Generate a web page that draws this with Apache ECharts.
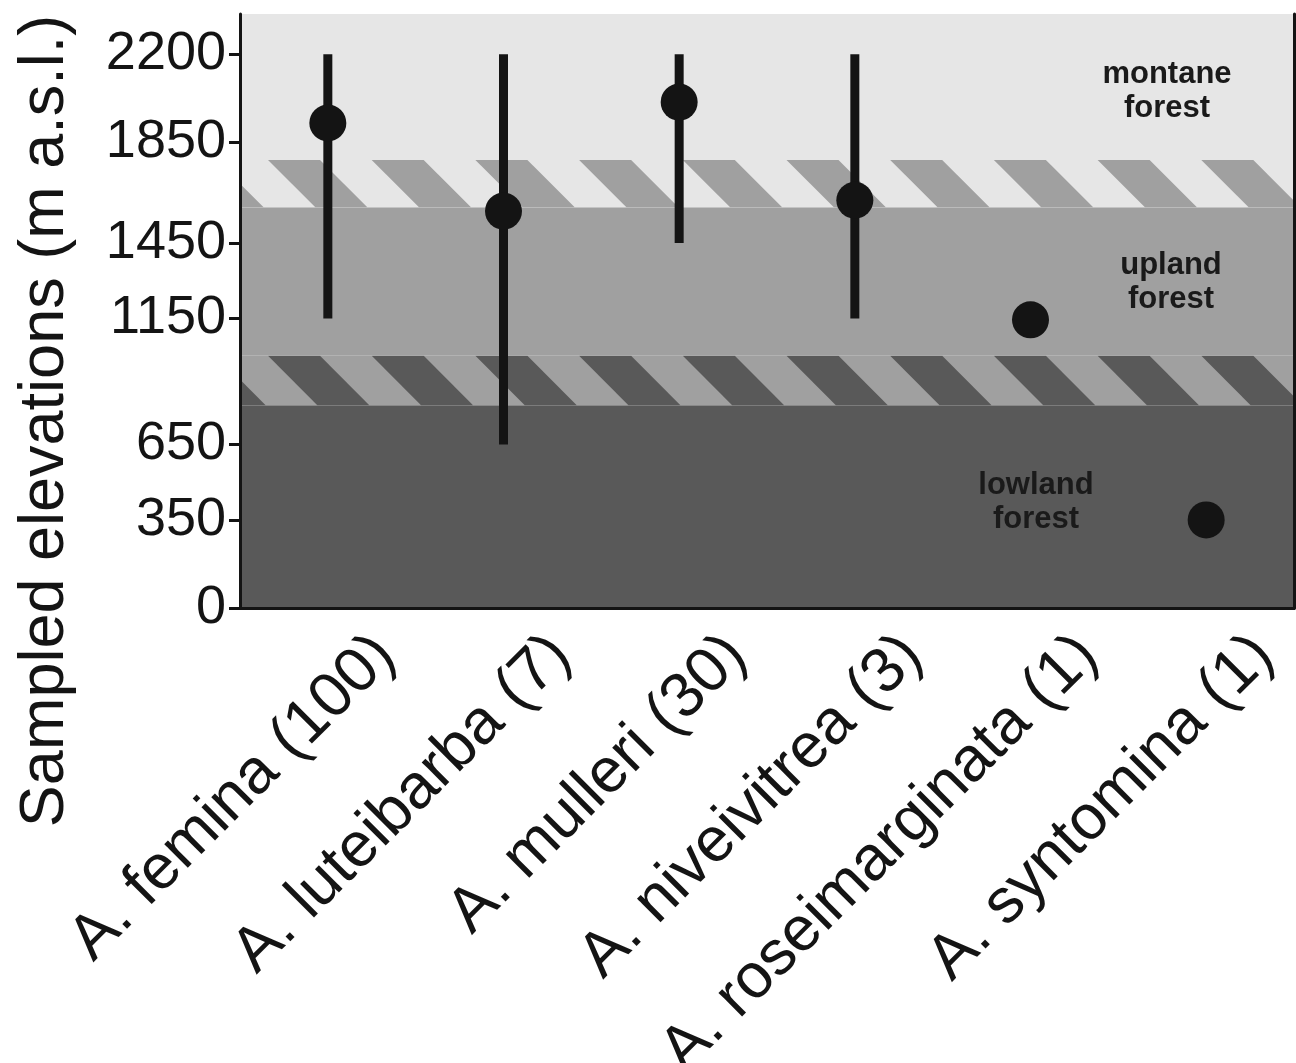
<!DOCTYPE html>
<html>
<head>
<meta charset="utf-8">
<script src="https://cdn.jsdelivr.net/npm/echarts@6/dist/echarts.min.js"></script>
<style>
  html, body { margin: 0; padding: 0; background: #fff; }
  #chart { width: 1296px; height: 1063px; }
</style>
</head>
<body>
<div id="chart"></div>
<script>
// species (number of specimens) and sampled elevation, m a.s.l.
const species = ["A. femina (100)", "A. luteibarba (7)", "A. mulleri (30)", "A. niveivitrea (3)", "A. roseimarginata (1)", "A. syntomina (1)"];
const elevMean = [1927, 1577, 2010, 1620, 1145, 350];
const elevMin = [1150, 650, 1450, 1150, null, null];
const elevMax = [2200, 2200, 2200, 2200, null, null];
const yTicks = [0, 350, 650, 1150, 1450, 1850, 2200];

// forest belts and the hatched transitions between them
const beltLabels = ["lowland\nforest", "upland\nforest", "montane\nforest"];
const lowlandTop = 806;
const uplandBottom = 1002;
const uplandTop = 1592;
const montaneBottom = 1780;

const FONT = "'Liberation Sans', Arial, sans-serif";
const INK = "#141414";
const beltColors = ["#595959", "#a0a0a0", "#e6e6e6"];
const Y_MAX = 2360;

// [from, to, base belt, stripe belt (-1 = none)]
const zoneData = [
  [0, lowlandTop, 0, -1],
  [lowlandTop, uplandBottom, 1, 0],
  [uplandBottom, uplandTop, 1, -1],
  [uplandTop, montaneBottom, 2, 1],
  [montaneBottom, Y_MAX, 2, -1]
];

const rangeData = species
  .map((s, i) => [i, elevMin[i], elevMax[i]])
  .filter(d => d[1] != null);

const stripePeriod = 103.7, stripeWidth = 52, stripeOffset = 28;

function renderZone(params, api) {
  const cs = params.coordSys;
  const yLo = api.coord([0, api.value(0)])[1];
  const yHi = api.coord([0, api.value(1)])[1];
  const h = yLo - yHi;
  const children = [{
    type: "rect",
    shape: { x: cs.x, y: yHi, width: cs.width, height: h },
    style: { fill: beltColors[api.value(2)] }
  }];
  const stripe = api.value(3);
  if (stripe >= 0) {
    for (let x0 = cs.x + stripeOffset - 2 * stripePeriod; x0 < cs.x + cs.width; x0 += stripePeriod) {
      children.push({
        type: "polygon",
        shape: { points: [[x0, yHi], [x0 + stripeWidth, yHi], [x0 + stripeWidth + h, yLo], [x0 + h, yLo]] },
        style: { fill: beltColors[stripe] }
      });
    }
  }
  return {
    type: "group",
    clipPath: { type: "rect", shape: { x: cs.x, y: cs.y, width: cs.width, height: cs.height } },
    children
  };
}

function renderRange(params, api) {
  const top = api.coord([api.value(0), api.value(2)]);
  const bottom = api.coord([api.value(0), api.value(1)]);
  return {
    type: "rect",
    shape: { x: top[0] - 4.5, y: top[1], width: 9, height: bottom[1] - top[1] },
    style: { fill: INK }
  };
}

const chart = echarts.init(document.getElementById("chart"));
const frameLine = { show: true, lineStyle: { color: INK, width: 3 } };
const beltText = (text, x, y) => ({
  type: "text", x, y, z: 5,
  style: { text, font: "bold 31px " + FONT, fill: "#1a1a1a", align: "center", verticalAlign: "middle", lineHeight: 34 }
});

chart.setOption({
  animation: false,
  textStyle: { fontFamily: FONT },
  grid: { left: 240, right: 2, top: 14, bottom: 455, outerBoundsMode: "none", containLabel: false },
  xAxis: [
    {
      type: "category",
      data: species,
      z: 10,
      axisLine: frameLine,
      axisTick: { show: false },
      axisLabel: {
        interval: 0,
        rotate: 45,
        fontSize: 63,
        color: INK,
        fontFamily: FONT,
        margin: -20,
        verticalAlign: "top",
        padding: [50, 0, 0, 0]
      }
    },
    { type: "category", data: species, position: "top", z: 10, axisLine: frameLine, axisTick: { show: false }, axisLabel: { show: false } }
  ],
  yAxis: [
    {
      type: "value",
      min: 0,
      max: Y_MAX,
      z: 10,
      splitLine: { show: false },
      axisLine: frameLine,
      axisTick: { show: true, length: 11, customValues: yTicks, lineStyle: { color: INK, width: 3 } },
      axisLabel: { customValues: yTicks, formatter: v => String(v), fontSize: 54, color: INK, fontFamily: FONT, margin: 14 },
      name: "Sampled elevations (m a.s.l.)",
      nameLocation: "middle",
      nameRotate: 90,
      nameGap: 163,
      nameTextStyle: { fontSize: 63, color: INK, fontFamily: FONT, padding: [0, 220, 0, 0] }
    },
    { type: "value", min: 0, max: Y_MAX, position: "right", z: 10, splitLine: { show: false }, axisLine: frameLine, axisTick: { show: false }, axisLabel: { show: false } }
  ],
  graphic: [
    beltText(beltLabels[2], 1167, 91),
    beltText(beltLabels[1], 1171, 282),
    beltText(beltLabels[0], 1036, 502)
  ],
  series: [
    { type: "custom", name: "belts", renderItem: renderZone, data: zoneData, z: 1, silent: true },
    { type: "custom", name: "range", renderItem: renderRange, data: rangeData, z: 3 },
    { type: "scatter", name: "mean", data: elevMean, symbolSize: 37, itemStyle: { color: INK, opacity: 1 }, z: 4 }
  ]
});
</script>
</body>
</html>
